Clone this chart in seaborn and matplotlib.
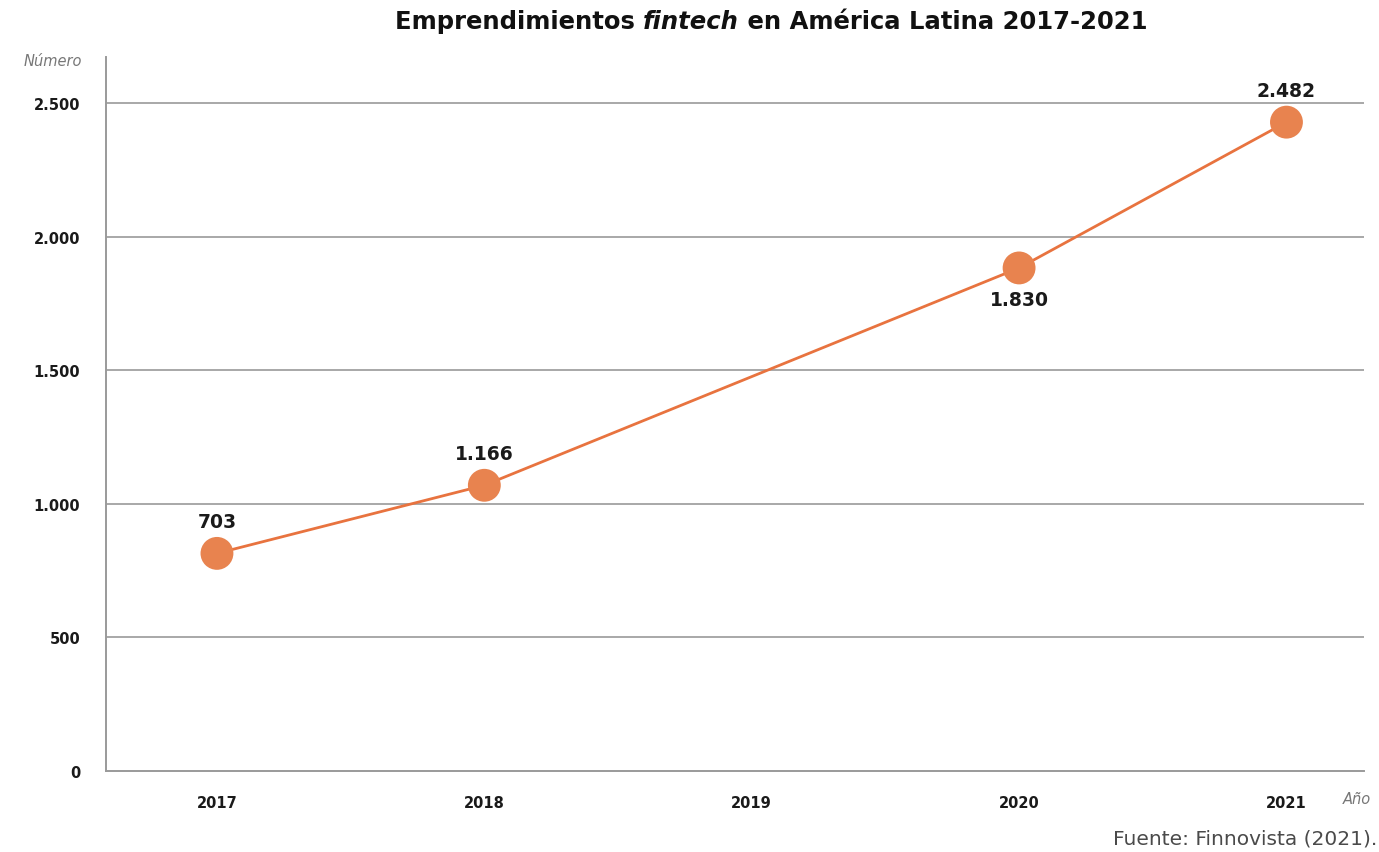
import matplotlib
matplotlib.use("Agg")
import matplotlib.pyplot as plt
import seaborn as sns
import pandas as pd

# values as drawn in the picture (marker positions) and the printed labels
years = [2017, 2018, 2020, 2021]
plotted = [815, 1070, 1884, 2430]
labels = ["703", "1.166", "1.830", "2.482"]
label_above = [True, True, False, True]
x_ticks = [2017, 2018, 2019, 2020, 2021]
y_ticks = [0, 500, 1000, 1500, 2000, 2500]
y_tick_labels = ["0", "500", "1.000", "1.500", "2.000", "2.500"]

df = pd.DataFrame({"year": years, "n": plotted})

sns.set_style("white")
plt.rcParams['font.family'] = ['DejaVu Sans']

orange = "#E8834F"
line_c = "#E8733F"
grid_c = "#9a9a9a"

fig = plt.figure(figsize=(13.79, 8.53), dpi=100)
ax = fig.add_axes([106/1379, 1-772/853, (1364-106)/1379, (772-58)/853])

for y in y_ticks[1:]:
    ax.axhline(y, color=grid_c, lw=1.2, zorder=0)

sns.lineplot(data=df, x="year", y="n", ax=ax, color=line_c, lw=2, zorder=2)
ax.scatter(df["year"], df["n"], s=560, color=orange, zorder=3, edgecolors="none")

for x, y, t, up in zip(years, plotted, labels, label_above):
    off = 16 if up else -16
    ax.annotate(t, (x, y), xytext=(0, off), textcoords="offset points",
                ha="center", va="bottom" if up else "top",
                fontsize=13.5, fontweight="bold", color="#1a1a1a")

ax.set_xlim(2016.585, 2021.29)
ax.set_ylim(0, 2674)
ax.set_xticks(x_ticks)
ax.set_xticklabels([str(v) for v in x_ticks])
ax.set_yticks(y_ticks)
ax.set_yticklabels(y_tick_labels)
ax.tick_params(length=0, labelsize=10.5, pad=17.5)
ax.tick_params(axis="y", pad=18.5)
for lab in ax.get_xticklabels() + ax.get_yticklabels():
    lab.set_fontweight("bold")
    lab.set_color("#1a1a1a")
ax.set_xlabel("")
ax.set_ylabel("")
sns.despine(ax=ax, top=True, right=True)
for s in ["left", "bottom"]:
    ax.spines[s].set_color(grid_c)
    ax.spines[s].set_linewidth(1.4)

fig.text(82/1379, 1-62/853, "Número", ha="right", va="center",
         fontsize=10.5, style="italic", color="#777777")
fig.text(1371/1379, 1-800/853, "Año", ha="right", va="center",
         fontsize=10.5, style="italic", color="#777777")
fig.text(1377/1379, 1-839/853, "Fuente: Finnovista (2021).", ha="right", va="center",
         fontsize=14.5, color="#4a4a4a")

# title in three pieces so that "fintech" is bold italic
fig.canvas.draw()
r = fig.canvas.get_renderer()
parts = [("Emprendimientos ", "normal"), ("fintech", "italic"), (" en América Latina 2017-2021", "normal")]
objs = []
for txt, st in parts:
    objs.append(fig.text(0, 1-22/853, txt, fontsize=17.5, fontweight="bold", style=st,
                         va="center", ha="left", color="#111111"))
widths = [o.get_window_extent(r).width for o in objs]
x0 = 771 - sum(widths)/2
for o, w in zip(objs, widths):
    o.set_x(x0/1379)
    x0 += w

fig.savefig("out.png", dpi=100)
